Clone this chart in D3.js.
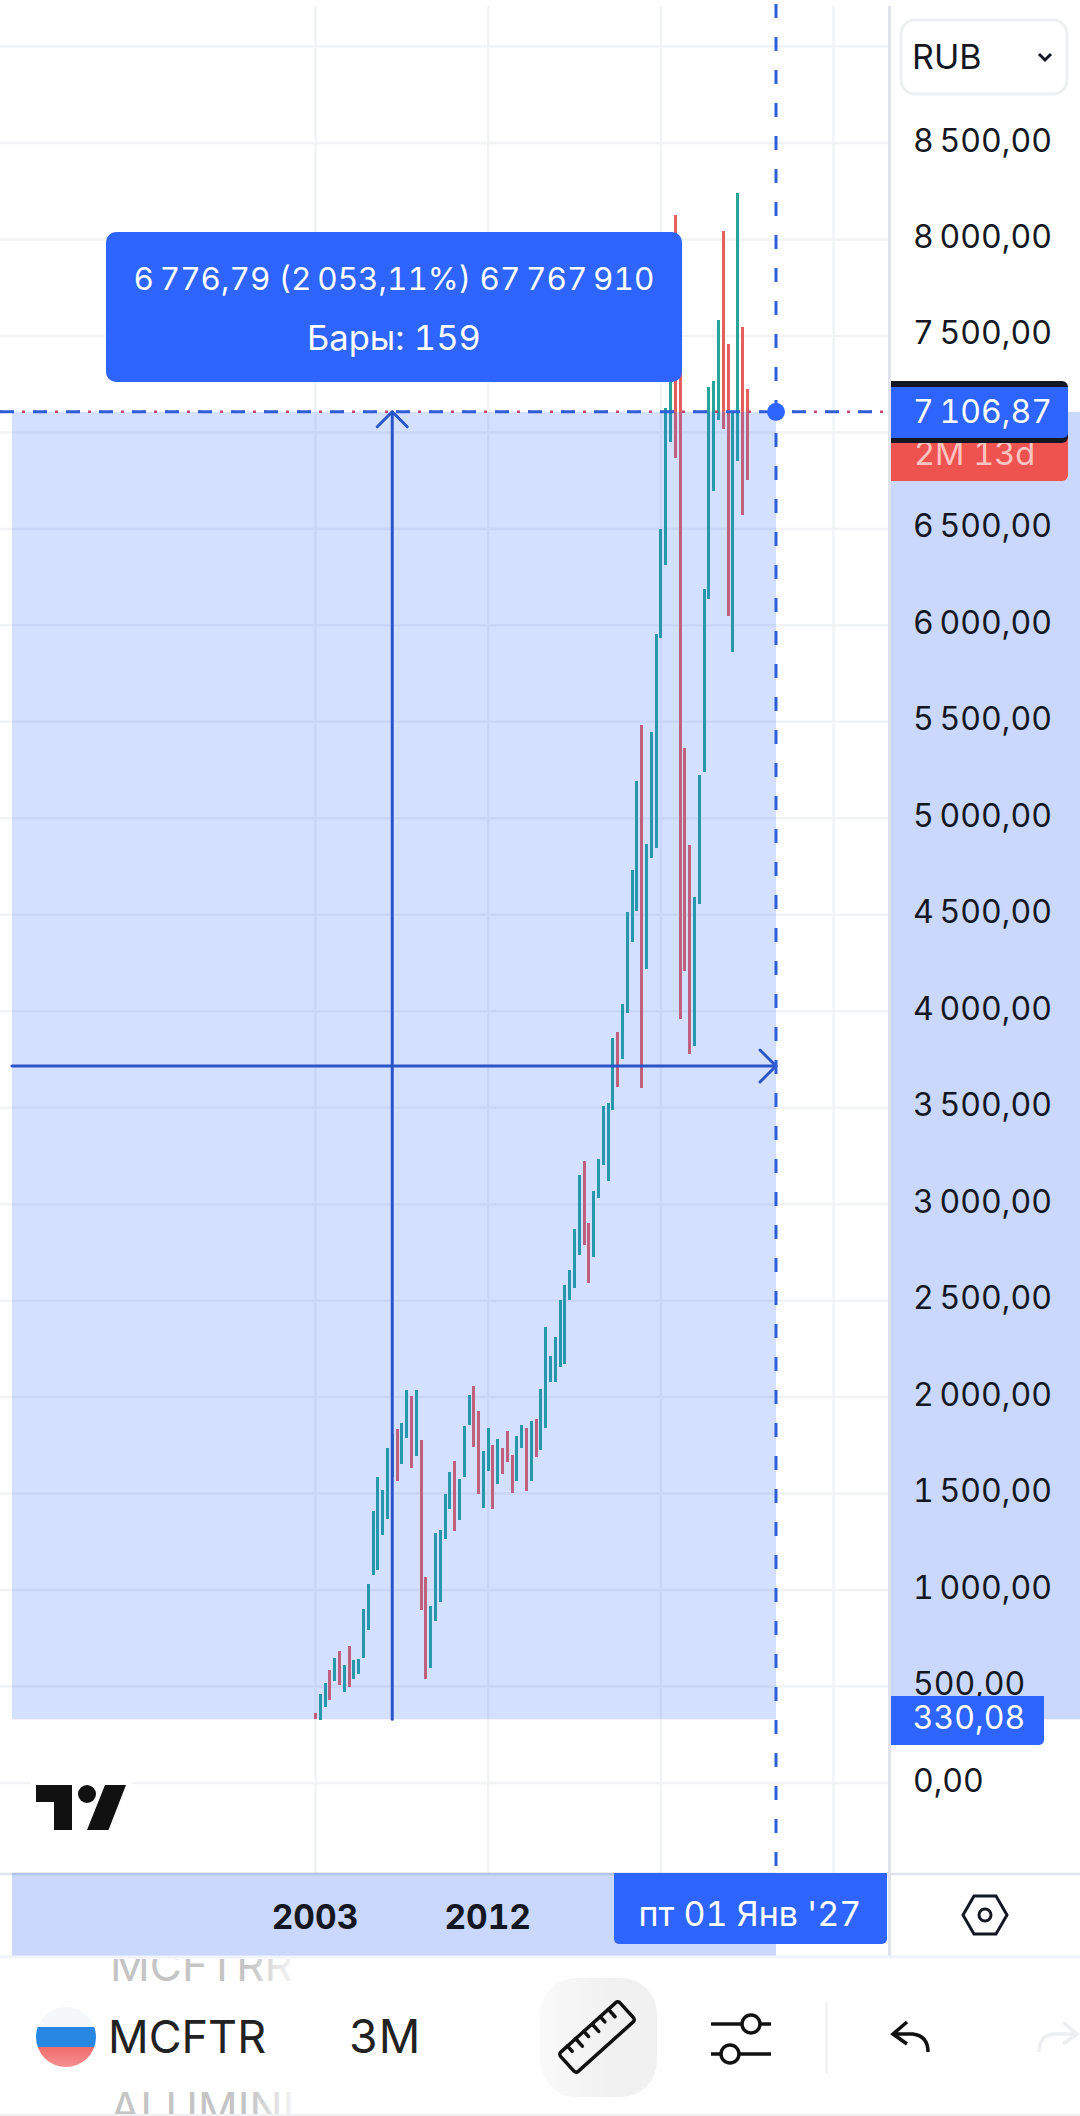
<!DOCTYPE html>
<html>
<head>
<meta charset="utf-8">
<script src="https://cdn.jsdelivr.net/npm/d3@7"></script>
<style>
  html, body { margin: 0; padding: 0; background: #fff; }
  svg { display: block; }
  text { font-family: Inter, sans-serif; font-feature-settings: 'tnum'; }
</style>
</head>
<body>
<svg id="chart" width="1080" height="2116"></svg>
<script>
// quarterly bars of MCFTR from Jan 2003
var bar_highs = [364, 461, 518, 586, 648, 684, 612, 710, 637, 643, 902, 1031, 1410, 1586, 1519, 1736,
  1809, 1835, 1866, 2037, 2006, 2037, 1778, 1068, 917, 1296, 1311, 1498, 1612, 1669, 1576, 1850,
  2011, 2058, 1928, 1721, 1840, 1752, 1783, 1736, 1824, 1700, 1798, 1855, 1840, 1876, 1887, 2042,
  2363, 2213, 2312, 2503, 2581, 2659, 2871, 3151, 3224, 2902, 3068, 3234, 3509, 3524, 3861, 3892,
  4037, 4514, 4732, 5193, 5484, 4867, 5447, 5955, 6499, 7127, 7560, 8127, 7530, 5364, 4862, 4592,
  5224, 6188, 7234, 7265, 7583, 8044, 7458, 7101, 8241, 7546, 7225];
var bar_lows = [330, 326, 394, 430, 529, 508, 472, 498, 539, 565, 648, 793, 1078, 1104, 1285, 1368,
  1586, 1565, 1653, 1788, 1633, 1695, 897, 539, 596, 840, 938, 1265, 1420, 1306, 1363, 1586,
  1855, 1741, 1498, 1425, 1617, 1420, 1550, 1602, 1664, 1503, 1565, 1736, 1513, 1565, 1690, 1726,
  1840, 2078, 2078, 2156, 2172, 2503, 2566, 2737, 2788, 2591, 2726, 3032, 3203, 3120, 3488, 3607,
  3752, 3991, 4359, 4519, 3602, 4219, 4794, 4846, 5935, 6313, 6949, 6867, 3960, 4208, 3778, 3820,
  4556, 5240, 6137, 6696, 7065, 7018, 6048, 5862, 6852, 6572, 6754];
// 1 = rising (teal), 0 = falling (red)
var bar_rising = [0, 1, 1, 0, 1, 0, 1, 0, 1, 1, 1, 1, 1, 1, 1, 1,
  1, 0, 1, 1, 0, 1, 0, 0, 1, 1, 1, 1, 1, 0, 1, 1,
  1, 0, 0, 1, 1, 0, 1, 0, 0, 0, 1, 1, 0, 1, 0, 1,
  1, 1, 1, 1, 1, 1, 1, 1, 0, 0, 1, 1, 1, 1, 1, 0,
  1, 1, 1, 1, 0, 1, 1, 1, 1, 1, 1, 0, 0, 0, 0, 1,
  1, 1, 1, 1, 1, 0, 0, 1, 1, 0, 0];

var price_ticks = [0, 500, 1000, 1500, 2000, 2500, 3000, 3500, 4000, 4500, 5000, 5500, 6000, 6500, 7000, 7500, 8000, 8500, 9000];
var price_labels = [0, 500, 1000, 1500, 2000, 2500, 3000, 3500, 4000, 4500, 5000, 5500, 6000, 6500, 7500, 8000, 8500];
var grid_bars = [0, 36, 72, 108];
var year_bars = [0, 36];
var year_labels = ['2003', '2012'];

var measure_start_price = 330.08;
var measure_end_price = 7106.87;
var measure_start_bar = 16;
var measure_end_bar = 96;
var tooltip_lines = ['6\u2009776,79 (2\u2009053,11%) 67\u2009767\u2009910', 'Бары: 159'];
var date_label = "пт 01 Янв '27";

var BLUE = '#2E64FF';
var LINE_BLUE = '#2A55C8';
var INK = '#131722';
var GRID = '#F2F3F5';
var SHADE_SOLID = '#C9D8FC';

var svg = d3.select('#chart');
var x = d3.scaleLinear().domain([0, 96]).range([315.5, 776]);
var y = d3.scaleLinear().domain([0, 8500]).range([1783, 143]);
var snap = v => Math.floor(v) + 0.5;

var ru = d3.formatLocale({decimal: ',', thousands: '\u2009', grouping: [3], currency: ['', '']});
var fmt = ru.format(',.2f');

function draw_grid()
{
  svg.selectAll('.hgrid').data(price_ticks).enter().append('line')
    .attr('class', 'hgrid')
    .attr('x1', 0).attr('x2', 888)
    .attr('y1', d => y(d)).attr('y2', d => y(d))
    .attr('stroke', GRID).attr('stroke-width', 2.5);

  svg.selectAll('.vgrid').data(grid_bars).enter().append('line')
    .attr('class', 'vgrid')
    .attr('x1', d => x(d)).attr('x2', d => x(d))
    .attr('y1', 6).attr('y2', 1873)
    .attr('stroke', GRID).attr('stroke-width', 2.5);
}

function draw_bars()
{
  svg.selectAll('.bar').data(bar_highs).enter().append('line')
    .attr('class', 'bar')
    .attr('x1', (d, i) => snap(x(i))).attr('x2', (d, i) => snap(x(i)))
    .attr('y1', d => y(d))
    .attr('y2', (d, i) => y(bar_lows[i]))
    .attr('stroke', (d, i) => bar_rising[i] ? '#26A69A' : '#E4605E')
    .attr('stroke-width', 3)
    .attr('shape-rendering', 'crispEdges');
}

function draw_measure()
{
  var top = y(measure_end_price), bottom = y(measure_start_price);
  var x0 = x(measure_start_bar), x1 = x(measure_end_bar);

  // shading sits on top of the bars, it tints them
  svg.append('rect')
    .attr('x', 12).attr('y', top)
    .attr('width', x1 - 12).attr('height', bottom - top)
    .attr('fill', 'rgb(41,98,255)').attr('fill-opacity', 0.2);

  var arrows = svg.append('g').attr('fill', 'none').attr('stroke', LINE_BLUE)
    .attr('stroke-width', 3).attr('stroke-linecap', 'round').attr('stroke-linejoin', 'round');
  var h_y = 1066;
  arrows.append('line').attr('x1', x0).attr('x2', x0).attr('y1', bottom).attr('y2', top);
  arrows.append('line').attr('x1', 12).attr('x2', x1).attr('y1', h_y).attr('y2', h_y);
  arrows.append('path').attr('d', d3.line()([[x0 - 15, top + 15], [x0, top], [x0 + 15, top + 15]]));
  arrows.append('path').attr('d', d3.line()([[x1 - 16, h_y - 16], [x1, h_y], [x1 - 16, h_y + 16]]));

  // crosshair, the dotted red price line goes under the blue dashes
  svg.append('line')
    .attr('x1', 0).attr('x2', 888).attr('y1', top).attr('y2', top)
    .attr('stroke', '#C2476B').attr('stroke-width', 2.5).attr('stroke-dasharray', '3,8');
  svg.append('line')
    .attr('x1', x1).attr('x2', x1).attr('y1', 4).attr('y2', 1873)
    .attr('stroke', '#2F5FD8').attr('stroke-width', 3).attr('stroke-dasharray', '14,19');
  svg.append('line')
    .attr('x1', 0).attr('x2', 890).attr('y1', top).attr('y2', top)
    .attr('stroke', '#2F5FD8').attr('stroke-width', 3).attr('stroke-dasharray', '14,19');
  svg.append('circle').attr('cx', x1).attr('cy', top).attr('r', 9).attr('fill', BLUE);

  // tooltip
  svg.append('rect')
    .attr('x', 106).attr('y', 232).attr('width', 576).attr('height', 150)
    .attr('rx', 10).attr('fill', BLUE);
  svg.selectAll('.tip').data(tooltip_lines).enter().append('text')
    .attr('class', 'tip')
    .attr('x', 394).attr('y', (d, i) => 290 + i * 60)
    .attr('text-anchor', 'middle')
    .attr('fill', '#fff').attr('font-size', (d, i) => i ? 34.5 : 31.5)
    .text(d => d);
}

function draw_price_axis()
{
  var top = y(measure_end_price), bottom = y(measure_start_price);

  svg.append('rect')
    .attr('x', 890).attr('y', top).attr('width', 190).attr('height', bottom - top)
    .attr('fill', SHADE_SOLID);

  svg.append('line')
    .attr('x1', 889.5).attr('x2', 889.5).attr('y1', 6).attr('y2', 1956)
    .attr('stroke', '#E0E3EB').attr('stroke-width', 3);

  var axis = svg.append('g')
    .attr('transform', 'translate(913,0)')
    .call(d3.axisRight(y).tickValues(price_labels).tickSize(0).tickPadding(0).tickFormat(fmt));
  axis.select('.domain').remove();
  axis.selectAll('text')
    .attr('dy', '0.25em')
    .attr('font-size', 32)
    .attr('font-family', 'Inter, sans-serif')
    .attr('fill', INK);

  // current price and countdown
  svg.append('path')
    .attr('d', 'M891,420 H1068 V475 a6,6 0 0 1 -6,6 H891 Z')
    .attr('fill', '#EF5350');
  svg.append('text').attr('x', 914).attr('y', 465)
    .attr('font-size', 32.5).attr('fill', '#FFC4C2').text('2M 13d');
  svg.append('path')
    .attr('d', 'M891,381 H1062 a6,6 0 0 1 6,6 V437 a6,6 0 0 1 -6,6 H891 Z')
    .attr('fill', INK);
  svg.append('path')
    .attr('d', 'M891,387 H1068 V433 a5,5 0 0 1 -5,5 H891 Z')
    .attr('fill', BLUE);
  svg.append('text').attr('x', 913).attr('y', 423)
    .attr('font-size', 32).attr('fill', '#fff').text(fmt(measure_end_price));

  // start price tag
  svg.append('path')
    .attr('d', 'M891,1696 H1044 V1740 a5,5 0 0 1 -5,5 H891 Z')
    .attr('fill', BLUE);
  svg.append('text').attr('x', 969).attr('y', 1729).attr('text-anchor', 'middle')
    .attr('font-size', 32).attr('fill', '#fff').text(fmt(measure_start_price));

  // currency box
  svg.append('rect').attr('x', 901).attr('y', 20).attr('width', 166).attr('height', 74)
    .attr('rx', 14).attr('fill', '#fff').attr('stroke', '#EEEFF1').attr('stroke-width', 3);
  svg.append('text').attr('x', 912).attr('y', 69).attr('font-size', 34).attr('fill', INK).text('RUB');
  svg.append('path').attr('d', 'M1039,54 L1045,60 L1051,54')
    .attr('fill', 'none').attr('stroke', INK).attr('stroke-width', 3);
}

function draw_time_axis()
{
  svg.append('rect').attr('x', 12).attr('y', 1873).attr('width', 764).attr('height', 83).attr('fill', SHADE_SOLID);
  svg.append('line').attr('x1', 0).attr('x2', 1080).attr('y1', 1874).attr('y2', 1874)
    .attr('stroke', '#E0E3EB').attr('stroke-width', 2.5);
  svg.append('line').attr('x1', 12).attr('x2', 776).attr('y1', 1874).attr('y2', 1874)
    .attr('stroke', '#B4C3E8').attr('stroke-width', 2.5);
  svg.append('line').attr('x1', 0).attr('x2', 1080).attr('y1', 1957).attr('y2', 1957)
    .attr('stroke', '#F0F3FA').attr('stroke-width', 3);

  var axis = svg.append('g')
    .attr('transform', 'translate(-1,1905)')
    .call(d3.axisBottom(x).tickValues(year_bars).tickSize(0).tickPadding(0)
      .tickFormat((d, i) => year_labels[i]));
  axis.select('.domain').remove();
  axis.selectAll('text')
    .attr('font-size', 33.5)
    .attr('font-weight', 700)
    .attr('font-family', 'Inter, sans-serif')
    .attr('fill', INK);

  svg.append('path')
    .attr('d', 'M614,1873 H887 V1939 a5,5 0 0 1 -5,5 H619 a5,5 0 0 1 -5,-5 Z')
    .attr('fill', BLUE);
  svg.append('text').attr('x', 750).attr('y', 1926).attr('text-anchor', 'middle')
    .attr('font-size', 34).attr('fill', '#fff').text(date_label);

  // settings hexagon
  svg.append('path').attr('d', 'M963,1915 L974,1896 H996 L1007,1915 L996,1934 H974 Z')
    .attr('fill', 'none').attr('stroke', INK).attr('stroke-width', 3);
  svg.append('circle').attr('cx', 985).attr('cy', 1915).attr('r', 6)
    .attr('fill', 'none').attr('stroke', INK).attr('stroke-width', 3);
}

function draw_logo()
{
  svg.append('rect').attr('x', 30).attr('y', 1776).attr('width', 102).attr('height', 14).attr('fill', '#fff');
  svg.append('path').attr('d', 'M36,1785 H72 V1830 H54 V1802 H36 Z').attr('fill', '#111');
  svg.append('circle').attr('cx', 87).attr('cy', 1794).attr('r', 9).attr('fill', '#111');
  svg.append('path').attr('d', 'M105,1785 H126 L108.5,1830 H87 Z').attr('fill', '#111');
}

function draw_toolbar()
{
  var defs = svg.append('defs');

  var flag = defs.append('linearGradient').attr('id', 'flag-fade').attr('x1', 0).attr('x2', 0).attr('y1', 0).attr('y2', 1);
  flag.append('stop').attr('offset', '0').attr('stop-color', '#F6F7FB');
  flag.append('stop').attr('offset', '0.33').attr('stop-color', '#F6F7FB');
  flag.append('stop').attr('offset', '0.33').attr('stop-color', '#2787E3');
  flag.append('stop').attr('offset', '0.66').attr('stop-color', '#2787E3');
  flag.append('stop').attr('offset', '0.66').attr('stop-color', '#F26B6B');
  flag.append('stop').attr('offset', '1').attr('stop-color', '#F59090');

  var pick_top = defs.append('linearGradient').attr('id', 'pick-top').attr('x1', 0).attr('x2', 1).attr('y1', 0).attr('y2', 0);
  pick_top.append('stop').attr('offset', '0').attr('stop-color', '#C4C4C4');
  pick_top.append('stop').attr('offset', '0.75').attr('stop-color', '#C4C4C4');
  pick_top.append('stop').attr('offset', '1').attr('stop-color', '#F4F4F4');

  var tool = defs.append('linearGradient').attr('id', 'tool-fade').attr('x1', 0).attr('x2', 1).attr('y1', 0).attr('y2', 0);
  tool.append('stop').attr('offset', '0').attr('stop-color', '#FAFAFA');
  tool.append('stop').attr('offset', '0.6').attr('stop-color', '#F1F1F1');

  defs.append('clipPath').attr('id', 'picker-clip')
    .append('rect').attr('x', 0).attr('y', 1959).attr('width', 1080).attr('height', 155);

  var picker = svg.append('g').attr('clip-path', 'url(#picker-clip)');
  picker.append('text').attr('x', 110).attr('y', 1981).attr('font-size', 44).attr('font-family', 'Roboto, sans-serif')
    .attr('fill', 'url(#pick-top)').text('MCFTRR');
  picker.append('text').attr('x', 110).attr('y', 2124).attr('font-size', 44).attr('font-family', 'Roboto, sans-serif')
    .attr('fill', 'url(#pick-top)').text('ALUMINI');

  svg.append('circle').attr('cx', 66).attr('cy', 2037).attr('r', 30).attr('fill', 'url(#flag-fade)');
  svg.append('text').attr('x', 108).attr('y', 2053).attr('font-size', 45).attr('font-family', 'Roboto, sans-serif')
    .attr('fill', '#222').text('MCFTR');
  svg.append('text').attr('x', 349).attr('y', 2053).attr('font-size', 46).attr('font-family', 'Roboto, sans-serif')
    .attr('fill', '#222').text('3M');

  svg.append('rect').attr('x', 540).attr('y', 1978).attr('width', 117).attr('height', 119)
    .attr('rx', 36).attr('fill', 'url(#tool-fade)');

  // ruler
  var ruler = svg.append('g').attr('transform', 'translate(597,2037) rotate(-42)')
    .attr('fill', 'none').attr('stroke', '#111').attr('stroke-width', 3.5)
    .attr('stroke-linecap', 'round').attr('stroke-linejoin', 'round');
  ruler.append('rect').attr('x', -40).attr('y', -13).attr('width', 80).attr('height', 26).attr('rx', 3);
  ruler.selectAll('line').data([-28, -17, -6, 5, 16, 27]).enter().append('line')
    .attr('x1', d => d).attr('x2', d => d)
    .attr('y1', -13).attr('y2', (d, i) => i % 2 ? -3 : -6);

  // sliders
  var sliders = svg.append('g').attr('stroke', '#111').attr('stroke-width', 3.5);
  sliders.append('line').attr('x1', 711).attr('x2', 771).attr('y1', 2024).attr('y2', 2024);
  sliders.append('line').attr('x1', 711).attr('x2', 771).attr('y1', 2054).attr('y2', 2054);
  sliders.append('circle').attr('cx', 751).attr('cy', 2024).attr('r', 9).attr('fill', '#fff');
  sliders.append('circle').attr('cx', 730).attr('cy', 2054).attr('r', 9).attr('fill', '#fff');

  svg.append('line').attr('x1', 826.5).attr('x2', 826.5).attr('y1', 2002).attr('y2', 2073)
    .attr('stroke', '#F0F1F3').attr('stroke-width', 2.5);

  // undo / redo
  svg.append('path').attr('d', 'M907,2022 L893,2034 L907,2044 M893,2034 H913 Q928,2036 928,2052')
    .attr('fill', 'none').attr('stroke', '#111').attr('stroke-width', 3.5);
  svg.append('path').attr('d', 'M1063,2022 L1077,2034 L1063,2044 M1077,2034 H1053 Q1039,2036 1039,2052')
    .attr('fill', 'none').attr('stroke', '#EDEEF0').attr('stroke-width', 3.5);

  svg.append('line').attr('x1', 0).attr('x2', 1080).attr('y1', 2115).attr('y2', 2115)
    .attr('stroke', '#F0F1F3').attr('stroke-width', 2);
}

draw_grid();
draw_bars();
draw_measure();
draw_price_axis();
draw_time_axis();
draw_logo();
draw_toolbar();
</script>
</body>
</html>
